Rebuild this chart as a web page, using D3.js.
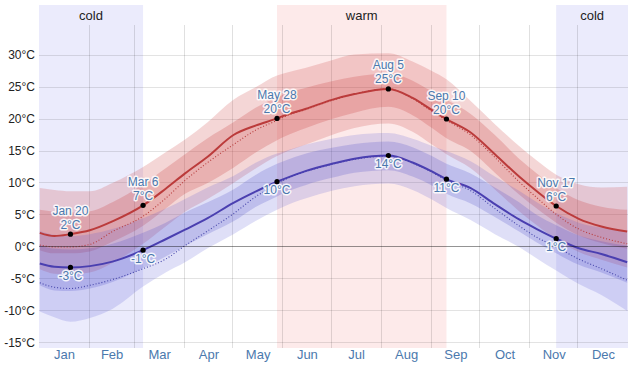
<!DOCTYPE html>
<html>
<head>
<meta charset="utf-8">
<script src="https://cdn.jsdelivr.net/npm/d3@7"></script>
<style>
  html, body { margin: 0; padding: 0; background: #fff; }
  svg { display: block; font-family: Arial, "Liberation Sans", sans-serif; }
</style>
</head>
<body>
<svg id="chart" width="631" height="369"></svg>
<script>
// ---------- data (°C) ----------
const dates = ["Jan 1","Jan 10","Jan 20","Feb 1","Feb 15","Mar 6","Mar 20","Apr 1","Apr 15","May 1","May 15","May 28","Jun 1","Jun 15","Jul 1","Jul 15","Aug 5","Aug 20","Sep 1","Sep 10","Sep 25","Oct 10","Oct 25","Nov 5","Nov 17","Dec 1","Dec 15","Dec 31"];

const highAvg   = [2.2, 1.7, 2.0, 2.6, 4.0, 6.5, 9.1, 11.5, 14.1, 17.5, 19.0, 20.1, 20.5, 21.6, 23.0, 23.9, 24.7, 23.3, 21.4, 20.0, 17.9, 14.5, 11.0, 8.7, 6.4, 4.4, 3.2, 2.4];
const highFeels = [0.3, 0.0, 0.0, 0.4, 2.4, 4.8, 7.6, 10.4, 13.2, 16.0, 18.3, 19.8, 20.3, 21.5, 22.9, 23.9, 24.7, 23.2, 21.2, 19.8, 17.5, 14.0, 10.2, 7.7, 5.1, 2.8, 1.5, 0.5];
const lowAvg    = [-2.6, -3.1, -3.2, -3.0, -2.3, -0.5, 1.2, 2.7, 4.5, 6.9, 8.7, 10.2, 10.6, 11.9, 13.0, 13.8, 14.3, 13.2, 11.8, 10.6, 9.2, 6.7, 4.3, 2.8, 1.3, -0.2, -1.1, -2.4];
const lowFeels  = [-5.6, -6.3, -6.5, -6.0, -5.1, -3.4, -1.9, 0.2, 2.5, 5.2, 7.9, 9.8, 10.4, 11.8, 12.9, 13.7, 14.2, 13.1, 11.7, 10.4, 8.8, 6.0, 3.3, 1.5, 0.0, -1.9, -3.4, -5.2];

const highP90 = [9.2, 8.9, 8.7, 8.7, 10.0, 12.5, 14.8, 16.8, 19.5, 23.0, 25.0, 26.8, 27.1, 28.0, 29.2, 30.1, 30.3, 29.0, 27.5, 26.2, 22.8, 19.2, 15.8, 13.5, 11.3, 9.8, 9.3, 9.4];
const highP75 = [5.8, 5.5, 5.4, 5.6, 7.0, 9.8, 12.3, 14.5, 17.0, 19.5, 21.8, 23.4, 23.8, 24.9, 25.9, 26.6, 27.1, 26.0, 24.3, 23.0, 20.8, 17.5, 13.8, 11.5, 9.2, 7.3, 6.3, 5.8];
const highP25 = [-0.5, -1.0, -1.0, -0.7, 0.8, 3.3, 6.0, 8.3, 10.0, 12.4, 14.8, 16.7, 17.2, 18.6, 20.0, 21.0, 21.9, 20.6, 18.6, 17.0, 15.0, 11.6, 8.2, 6.0, 3.8, 1.8, 0.6, -0.3];
const highP10 = [-3.5, -4.2, -4.3, -4.0, -2.5, 0.5, 3.2, 5.5, 7.5, 10.0, 12.3, 14.2, 14.7, 16.0, 17.5, 18.6, 19.3, 18.0, 16.0, 14.5, 12.3, 9.0, 5.6, 3.4, 1.2, -0.8, -2.0, -3.2];

const lowP90 = [2.5, 1.9, 1.7, 2.0, 2.8, 4.5, 6.0, 7.5, 9.3, 11.1, 13.2, 14.6, 14.9, 16.0, 16.9, 17.5, 17.8, 16.9, 15.8, 15.0, 13.4, 11.0, 8.8, 7.0, 5.3, 3.8, 3.0, 2.4];
const lowP75 = [0.3, -0.3, -0.4, -0.2, 0.5, 2.2, 3.8, 5.4, 7.0, 9.0, 11.3, 13.0, 13.4, 14.6, 15.5, 16.1, 16.5, 15.6, 14.2, 13.0, 11.5, 9.3, 7.0, 5.0, 3.4, 1.8, 0.9, 0.2];
const lowP25 = [-6.0, -6.8, -6.9, -6.5, -5.5, -3.3, -1.5, 0.2, 2.0, 4.0, 6.3, 7.9, 8.4, 9.7, 10.8, 11.6, 12.0, 11.0, 9.6, 8.3, 6.8, 4.7, 2.4, 0.7, -1.0, -2.8, -4.0, -5.6];
const lowP10 = [-10.1, -11.0, -11.7, -11.1, -9.7, -6.2, -4.0, -2.4, -0.2, 2.0, 4.1, 5.8, 6.3, 7.6, 8.8, 9.5, 9.9, 8.9, 7.4, 6.1, 4.2, 2.0, 0.0, -1.8, -3.7, -5.8, -7.5, -10.0];

const markDates  = ["Jan 20", "Mar 6", "May 28", "Aug 5", "Sep 10", "Nov 17"];
const markHigh   = ["2°C", "7°C", "20°C", "25°C", "20°C", "6°C"];
const markLow    = ["-3°C", "-1°C", "10°C", "14°C", "11°C", "1°C"];

const seasonNames  = ["cold", "warm", "cold"];
const seasonStarts = ["Jan 1", "May 28", "Nov 17"];
const seasonEnds   = ["Mar 6", "Sep 10", "Dec 31"];

const yTicks = [-15, -10, -5, 0, 5, 10, 15, 20, 25, 30];
const monthNames = ["Jan","Feb","Mar","Apr","May","Jun","Jul","Aug","Sep","Oct","Nov","Dec"];

// ---------- setup ----------
const svg = d3.select("#chart");
const L = 39, R = 628, T = 25, B = 348;
const parse = s => d3.timeHour.offset(d3.timeParse("%b %d %Y")(s + " 2023"), 12);
const yearStart = new Date(2023, 0, 1), yearEnd = new Date(2024, 0, 1);

const x = d3.scaleTime().domain([yearStart, yearEnd]).range([L, R]);
const y = d3.scaleLinear().domain([-15.8, 34.7]).range([B, T]);

const pts = dates.map(parse);
const edgeX = (s, isEnd) => {
  if (s === "Jan 1" && !isEnd) return x(yearStart);
  if (s === "Dec 31" && isEnd) return x(yearEnd);
  return x(parse(s));
};

// ---------- season bands ----------
const seasons = seasonNames.map((n, i) => ({ name: n, x0: edgeX(seasonStarts[i], false), x1: edgeX(seasonEnds[i], true) }));
svg.append("g").selectAll("rect").data(seasons).join("rect")
  .attr("x", d => d.x0).attr("y", 5)
  .attr("width", d => d.x1 - d.x0).attr("height", B - 5)
  .attr("fill", d => d.name === "cold" ? "#ebebfc" : "#fdeaea");
svg.append("g").selectAll("text").data(seasons).join("text")
  .attr("x", d => (d.x0 + d.x1) / 2).attr("y", 15).attr("dy", "0.35em")
  .attr("text-anchor", "middle").attr("font-size", 13).attr("fill", "#222")
  .text(d => d.name);

// ---------- grid ----------
const grid = svg.append("g");
const months = d3.timeMonth.range(yearStart, yearEnd);
grid.selectAll("line.v").data(months.slice(1)).join("line").attr("class", "v")
  .attr("x1", d => x(d)).attr("x2", d => x(d)).attr("y1", T).attr("y2", B)
  .attr("stroke", "rgba(0,0,0,0.12)").attr("stroke-width", 1).attr("shape-rendering", "crispEdges");
grid.selectAll("line.h").data(yTicks.filter(t => t !== 0)).join("line").attr("class", "h")
  .attr("x1", L).attr("x2", R).attr("y1", d => y(d)).attr("y2", d => y(d))
  .attr("stroke", "rgba(0,0,0,0.11)").attr("stroke-width", 1).attr("shape-rendering", "crispEdges");

// ---------- percentile bands ----------
svg.append("clipPath").attr("id", "plotclip").append("rect")
  .attr("x", L).attr("y", T - 20).attr("width", R - L).attr("height", B - T + 20);
const data = svg.append("g").attr("clip-path", "url(#plotclip)");
const curve = d3.curveMonotoneX;
function band(lo, hi, fill) {
  const a = d3.area().curve(curve).x((d, i) => x(pts[i])).y0((d, i) => y(lo[i])).y1((d, i) => y(hi[i]));
  data.append("path").datum(dates).attr("d", a).attr("fill", fill);
}
band(highP10, highP90, "rgba(205,70,70,0.22)");
band(highP25, highP75, "rgba(200,60,60,0.24)");
band(lowP10, lowP90, "rgba(85,85,215,0.19)");
band(lowP25, lowP75, "rgba(75,75,200,0.22)");

// zero line
svg.append("line").attr("x1", L).attr("x2", R).attr("y1", y(0)).attr("y2", y(0))
  .attr("stroke", "rgba(0,0,0,0.42)").attr("stroke-width", 1).attr("shape-rendering", "crispEdges");

// ---------- lines ----------
function line(vals, color, width, dash) {
  const l = d3.line().curve(curve).x((d, i) => x(pts[i])).y((d, i) => y(vals[i]));
  const p = data.append("path").datum(dates).attr("d", l).attr("fill", "none")
    .attr("stroke", color).attr("stroke-width", width);
  if (dash) p.attr("stroke-dasharray", dash);
}
line(highFeels, "#b83c3c", 1.1, "1,2");
line(lowFeels, "#4444aa", 1.1, "1,2");
line(highAvg, "#bb3b3b", 2);
line(lowAvg, "#4a3fb0", 2);

// ---------- markers & labels ----------
const marks = markDates.map((d, i) => {
  const k = dates.indexOf(d);
  return { date: d, x: x(pts[k]), yh: y(highAvg[k]), yl: y(lowAvg[k]), th: markHigh[i], tl: markLow[i] };
});
const mg = svg.append("g");
mg.selectAll("circle.h").data(marks).join("circle").attr("cx", d => d.x).attr("cy", d => d.yh).attr("r", 2.6).attr("fill", "#000");
mg.selectAll("circle.l").data(marks).join("circle").attr("cx", d => d.x).attr("cy", d => d.yl).attr("r", 2.6).attr("fill", "#000");

const lab = svg.append("g").attr("font-size", 12).attr("text-anchor", "middle")
  .attr("fill", "#4b79ad").attr("stroke", "rgba(255,255,255,0.85)").attr("stroke-width", 3)
  .attr("paint-order", "stroke").attr("stroke-linejoin", "round");
lab.selectAll("text.d").data(marks).join("text").attr("x", d => d.x).attr("y", d => d.yh - 19.5).text(d => d.date);
lab.selectAll("text.th").data(marks).join("text").attr("x", d => d.x).attr("y", d => d.yh - 5.5).text(d => d.th);
lab.selectAll("text.tl").data(marks).join("text").attr("x", d => d.x).attr("y", d => d.yl + 12.5).text(d => d.tl);

// ---------- axes ----------
const yAxis = svg.append("g").attr("transform", `translate(${L - 4},0)`)
  .call(d3.axisLeft(y).tickValues(yTicks).tickSize(0).tickPadding(0).tickFormat(d => d + "°C"));
yAxis.select(".domain").remove();
yAxis.selectAll("text").attr("font-size", 12).attr("fill", "#222").attr("font-family", "Arial, 'Liberation Sans', sans-serif");

const mids = months.map(m => new Date((+m + +d3.timeMonth.offset(m, 1)) / 2));
const xAxis = svg.append("g").attr("transform", `translate(0,${B})`)
  .call(d3.axisBottom(x).tickValues(mids).tickSize(0).tickPadding(2).tickFormat((d, i) => monthNames[i]));
xAxis.select(".domain").remove();
xAxis.selectAll("text").attr("font-size", 13).attr("fill", "#4b79ad").attr("font-family", "Arial, 'Liberation Sans', sans-serif");
</script>
</body>
</html>
